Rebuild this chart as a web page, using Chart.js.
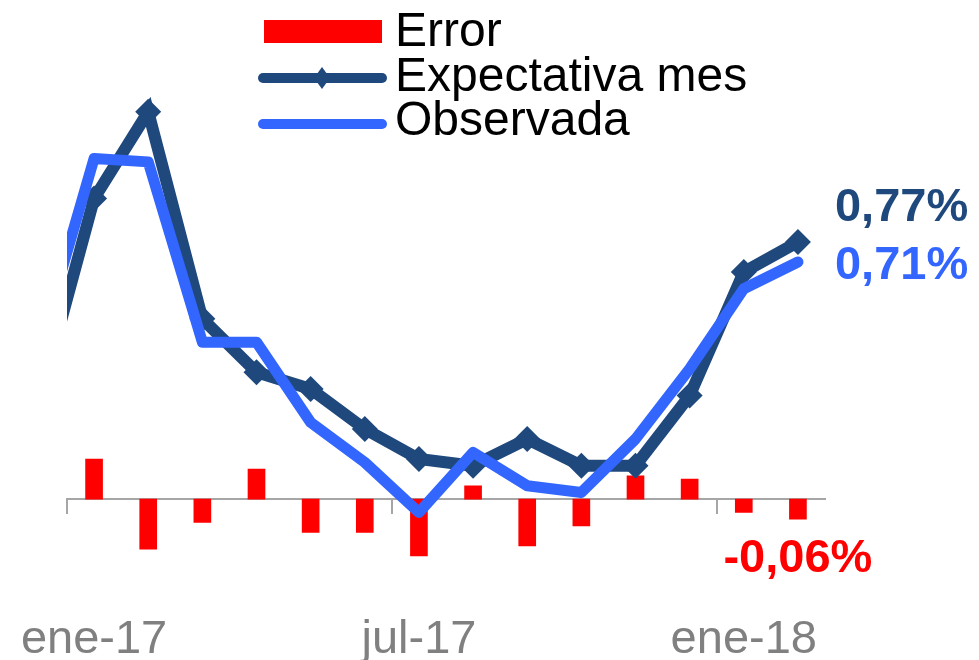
<!DOCTYPE html>
<html lang="es">
<head>
<meta charset="utf-8">
<title>Expectativa vs observada</title>
<script src="https://cdn.jsdelivr.net/npm/chart.js@4.4.1/dist/chart.umd.min.js"></script>
<style>
  html, body { margin: 0; padding: 0; background: #fff; }
</style>
</head>
<body>
<canvas id="errorChart" width="979" height="660"></canvas>
<script>
// Meses (dic-16 queda fuera del área: solo se ve el tramo inicial de las líneas)
const meses = ['dic-16', 'ene-17', 'feb-17', 'mar-17', 'abr-17', 'may-17', 'jun-17', 'jul-17',
    'ago-17', 'sep-17', 'oct-17', 'nov-17', 'dic-17', 'ene-18', 'feb-18'];
const etiquetasEje = ['ene-17', 'jul-17', 'ene-18'];

// Valores en %
const expectativa = [0.30, 0.90, 1.16, 0.54, 0.38, 0.33, 0.21, 0.12, 0.10, 0.18, 0.10, 0.10, 0.31, 0.68, 0.77];
const observada = [0.46, 1.02, 1.01, 0.47, 0.47, 0.23, 0.11, -0.04, 0.14, 0.04, 0.02, 0.18, 0.39, 0.63, 0.71];
const error = [null, 0.12, -0.15, -0.07, 0.09, -0.10, -0.10, -0.17, 0.04, -0.14, -0.08, 0.07, 0.06, -0.04, -0.06];

const colores = {
    error: '#FF0000',
    expectativa: '#1F497D',
    observada: '#3366FF',
    eje: '#A6A6A6',
    texto: '#808080'
};

const fuente = "'Liberation Sans', Arial, sans-serif";
Chart.defaults.font.family = fuente;

function formatoPct(v) {
    return v.toFixed(2).replace('.', ',') + '%';
}

// Leyenda en columna, dibujada sobre el gráfico
const leyendaPlugin = {
    id: 'leyendaColumna',
    afterDraw(chart) {
        const ctx = chart.ctx;
        const ds = chart.data.datasets;
        ctx.save();
        ctx.font = '48px ' + fuente;
        ctx.textBaseline = 'alphabetic';
        ctx.textAlign = 'left';

        // Error: rectángulo
        ctx.fillStyle = ds[0].backgroundColor;
        ctx.fillRect(264, 20, 118, 23);
        ctx.fillStyle = '#000';
        ctx.fillText(ds[0].label, 395, 46);

        // líneas
        [[ds[1], 78, 91, true], [ds[2], 124, 135, false]].forEach(function(item) {
            const d = item[0], y = item[1];
            ctx.strokeStyle = d.borderColor;
            ctx.lineWidth = 10;
            ctx.lineCap = 'round';
            ctx.beginPath();
            ctx.moveTo(263, y);
            ctx.lineTo(382, y);
            ctx.stroke();
            if (item[3]) {
                ctx.fillStyle = d.borderColor;
                ctx.beginPath();
                ctx.moveTo(322, y - 11);
                ctx.lineTo(330, y);
                ctx.lineTo(322, y + 11);
                ctx.lineTo(314, y);
                ctx.closePath();
                ctx.fill();
            }
            ctx.fillStyle = '#000';
            ctx.fillText(d.label, 395, item[2]);
        });
        ctx.restore();
    }
};

// Etiquetas del último dato
const etiquetasFinPlugin = {
    id: 'etiquetasFin',
    afterDatasetsDraw(chart) {
        const ctx = chart.ctx;
        const ult = meses.length - 1;
        ctx.save();
        ctx.font = 'bold 47px ' + fuente;
        ctx.textBaseline = 'alphabetic';

        ctx.textAlign = 'left';
        let p = chart.getDatasetMeta(1).data[ult];
        ctx.fillStyle = colores.expectativa;
        ctx.fillText(formatoPct(expectativa[ult]), p.x + 37, p.y - 21);

        p = chart.getDatasetMeta(2).data[ult];
        ctx.fillStyle = colores.observada;
        ctx.fillText(formatoPct(observada[ult]), p.x + 37, p.y + 17);

        const b = chart.getDatasetMeta(0).data[ult];
        ctx.textAlign = 'center';
        ctx.fillStyle = colores.error;
        ctx.fillText(formatoPct(error[ult]), b.x, b.y + 53);
        ctx.restore();
    }
};

new Chart(document.getElementById('errorChart'), {
    type: 'bar',
    data: {
        labels: meses,
        datasets: [{
            type: 'bar',
            label: 'Error',
            data: error,
            backgroundColor: colores.error,
            barThickness: 17,
            order: 2
        }, {
            type: 'line',
            label: 'Expectativa mes',
            data: expectativa,
            borderColor: colores.expectativa,
            backgroundColor: colores.expectativa,
            borderWidth: 12,
            pointStyle: 'rectRot',
            pointRadius: 13,
            pointBorderWidth: 0,
            tension: 0,
            order: 1
        }, {
            type: 'line',
            label: 'Observada',
            data: observada,
            borderColor: colores.observada,
            backgroundColor: colores.observada,
            borderWidth: 11,
            borderJoinStyle: 'round',
            borderCapStyle: 'round',
            pointRadius: 0,
            tension: 0,
            order: 0
        }]
    },
    options: {
        responsive: false,
        animation: false,
        devicePixelRatio: 1,
        layout: {
            padding: { left: 67, right: 154, top: 40, bottom: -21 }
        },
        plugins: {
            legend: { display: false },
            tooltip: { enabled: false }
        },
        scales: {
            x: {
                type: 'category',
                min: 'ene-17',
                offset: true,
                grid: { display: false },
                border: { display: false },
                ticks: {
                    autoSkip: false,
                    maxRotation: 0,
                    padding: 13,
                    color: colores.texto,
                    font: { size: 47 },
                    callback: function(value) {
                        const lab = this.getLabelForValue(value);
                        return etiquetasEje.includes(lab) ? lab : '';
                    }
                }
            },
            x2: {
                type: 'category',
                axis: 'x',
                min: 'ene-17',
                offset: true,
                position: { y: 0 },
                grid: {
                    offset: true,
                    drawOnChartArea: false,
                    drawTicks: true,
                    tickLength: 14,
                    lineWidth: 2,
                    color: function(c) {
                        return (c.index % 6 === 0 && c.index < 14) ? colores.eje : 'rgba(0,0,0,0)';
                    }
                },
                border: { display: true, color: colores.eje, width: 2 },
                ticks: { display: false }
            },
            y: {
                display: false,
                min: -0.274,
                max: 1.375
            }
        }
    },
    plugins: [etiquetasFinPlugin, leyendaPlugin]
});
</script>
</body>
</html>
